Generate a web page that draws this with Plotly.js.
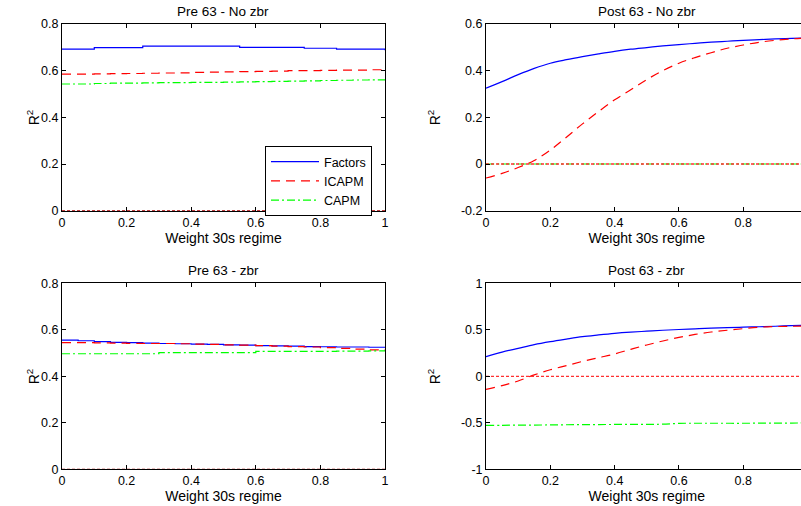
<!DOCTYPE html>
<html>
<head>
<meta charset="utf-8">
<script src="https://cdn.plot.ly/plotly-3.0.1.min.js"></script>
<style>
html, body { margin: 0; padding: 0; overflow: hidden; background: #fff; }
#chart { width: 810px; height: 506px; }
</style>
</head>
<body>
<div id="chart"></div>
<script>
// ---- data ----
const weight = [0, 0.05, 0.1, 0.15, 0.2, 0.25, 0.3, 0.35, 0.4, 0.45, 0.5, 0.55, 0.6, 0.65, 0.7, 0.75, 0.8, 0.85, 0.9, 0.95, 1];
const zeroX = [0, 1];
const zeroY = [0, 0];

const seriesNames = ['Factors', 'ICAPM', 'CAPM'];
const panelTitles = ['Pre 63 - No zbr', 'Post 63 - No zbr', 'Pre 63 - zbr', 'Post 63 - zbr'];
const xTitle = 'Weight 30s regime';
const yTitle = 'R<sup>2</sup>';

// Pre 63 - No zbr
const pre63NoZbrFactors = [0.692, 0.692, 0.699, 0.699, 0.699, 0.705, 0.705, 0.705, 0.705, 0.705, 0.705, 0.700, 0.700, 0.700, 0.700, 0.696, 0.696, 0.692, 0.692, 0.692, 0.687];
const pre63NoZbrICAPM   = [0.585, 0.585, 0.586, 0.587, 0.588, 0.589, 0.590, 0.591, 0.593, 0.594, 0.595, 0.596, 0.597, 0.598, 0.600, 0.600, 0.601, 0.602, 0.602, 0.604, 0.605];
const pre63NoZbrCAPM    = [0.543, 0.543, 0.545, 0.547, 0.547, 0.548, 0.549, 0.549, 0.550, 0.550, 0.551, 0.552, 0.553, 0.554, 0.555, 0.556, 0.558, 0.559, 0.560, 0.561, 0.562];

// Post 63 - No zbr
const post63NoZbrFactors = [0.325, 0.353, 0.383, 0.410, 0.432, 0.447, 0.460, 0.472, 0.483, 0.492, 0.499, 0.506, 0.512, 0.517, 0.522, 0.526, 0.530, 0.533, 0.536, 0.538, 0.540];
const post63NoZbrICAPM   = [-0.060, -0.040, -0.015, 0.015, 0.060, 0.115, 0.172, 0.225, 0.275, 0.318, 0.362, 0.400, 0.432, 0.456, 0.477, 0.496, 0.510, 0.522, 0.530, 0.536, 0.540];
const post63NoZbrCAPM    = [0, 0, 0, 0, 0, 0, 0, 0, 0, 0, 0, 0, 0, 0, 0, 0, 0, 0, 0, 0, 0];

// Pre 63 - zbr
const pre63ZbrFactors = [0.556, 0.553, 0.549, 0.546, 0.545, 0.543, 0.541, 0.540, 0.538, 0.537, 0.535, 0.534, 0.532, 0.531, 0.530, 0.528, 0.527, 0.526, 0.526, 0.525, 0.525];
const pre63ZbrICAPM   = [0.545, 0.545, 0.544, 0.543, 0.542, 0.541, 0.541, 0.540, 0.538, 0.537, 0.535, 0.534, 0.532, 0.530, 0.528, 0.526, 0.523, 0.520, 0.517, 0.514, 0.510];
const pre63ZbrCAPM    = [0.497, 0.497, 0.497, 0.497, 0.497, 0.497, 0.502, 0.502, 0.502, 0.502, 0.502, 0.502, 0.507, 0.507, 0.507, 0.507, 0.507, 0.508, 0.508, 0.509, 0.510];

// Post 63 - zbr
const post63ZbrFactors = [0.211, 0.260, 0.300, 0.340, 0.372, 0.400, 0.426, 0.445, 0.462, 0.475, 0.485, 0.495, 0.503, 0.510, 0.517, 0.523, 0.528, 0.533, 0.538, 0.545, 0.550];
const post63ZbrICAPM   = [-0.140, -0.100, -0.050, 0.015, 0.070, 0.115, 0.160, 0.200, 0.240, 0.290, 0.337, 0.380, 0.418, 0.450, 0.476, 0.495, 0.512, 0.528, 0.535, 0.538, 0.540];
const post63ZbrCAPM    = [-0.527, -0.527, -0.525, -0.524, -0.523, -0.521, -0.520, -0.519, -0.518, -0.517, -0.516, -0.515, -0.506, -0.505, -0.505, -0.505, -0.505, -0.504, -0.504, -0.503, -0.500];

// tick labels
const xTickVals = [0, 0.2, 0.4, 0.6, 0.8, 1];
const xTickText = ['0', '0.2', '0.4', '0.6', '0.8', '1'];
const yTickValsA = [0, 0.2, 0.4, 0.6, 0.8];
const yTickTextA = ['0', '0.2', '0.4', '0.6', '0.8'];
const yTickValsB = [-0.2, 0, 0.2, 0.4, 0.6];
const yTickTextB = ['-0.2', '0', '0.2', '0.4', '0.6'];
const yTickValsD = [-1, -0.5, 0, 0.5, 1];
const yTickTextD = ['-1', '-0.5', '0', '0.5', '1'];

// ---- build ----
const W = 810, H = 506;
const FONT = 'Liberation Sans, Arial, sans-serif';
const colors = ['#0000ff', '#ff0000', '#00ff00'];
const dashes = ['solid', '9px,6px', '8px,3px,2px,3px'];

const panels = [
  {ax: '', data: [pre63NoZbrFactors, pre63NoZbrICAPM, pre63NoZbrCAPM], shape: 'hv'},
  {ax: '2', data: [post63NoZbrFactors, post63NoZbrICAPM, post63NoZbrCAPM], shape: 'spline'},
  {ax: '3', data: [pre63ZbrFactors, pre63ZbrICAPM, pre63ZbrCAPM], shape: 'hv'},
  {ax: '4', data: [post63ZbrFactors, post63ZbrICAPM, post63ZbrCAPM], shape: 'spline'}
];

const traces = [];
panels.forEach((p, pi) => {
  p.data.forEach((ys, si) => {
    traces.push({
      x: weight, y: ys, type: 'scatter', mode: 'lines',
      name: seriesNames[si],
      showlegend: pi === 0,
      xaxis: 'x' + p.ax, yaxis: 'y' + p.ax,
      line: {color: colors[si], width: 1.2, dash: dashes[si], shape: p.shape},
      hoverinfo: 'skip'
    });
  });
  traces.push({
    x: zeroX, y: zeroY, type: 'scatter', mode: 'lines', showlegend: false,
    xaxis: 'x' + p.ax, yaxis: 'y' + p.ax,
    line: {color: pi % 2 === 0 ? '#aa0000' : '#ff3030', width: 1.3, dash: '3px,2px'},
    hoverinfo: 'skip'
  });
});

const xL = [62 / W, 385 / W];
const xR = [486 / W, 807.6 / W];
const yT = [(H - 210.7) / H, (H - 24) / H];
const yB = [(H - 469.3) / H, (H - 283.3) / H];

function xAxis(domain, anchor) {
  return {
    domain: domain, anchor: anchor, range: [0, 1],
    tickvals: xTickVals, ticktext: xTickText,
    ticks: 'inside', ticklen: 4, tickcolor: '#000', tickwidth: 1,
    showline: true, linecolor: '#000', linewidth: 1, mirror: 'ticks',
    showgrid: false, zeroline: false,
    tickfont: {family: FONT, size: 12.5, color: '#000'},
    title: {text: xTitle, font: {family: FONT, size: 14, color: '#000'}, standoff: 1},
    fixedrange: true
  };
}
function yAxis(domain, anchor, range, vals, text) {
  return {
    domain: domain, anchor: anchor, range: range,
    tickvals: vals, ticktext: text,
    ticks: 'inside', ticklen: 4, tickcolor: '#000', tickwidth: 1,
    showline: true, linecolor: '#000', linewidth: 1, mirror: 'ticks',
    showgrid: false, zeroline: false,
    tickfont: {family: FONT, size: 12.5, color: '#000'},
    fixedrange: true
  };
}

const centers = [
  {x: (xL[0] + xL[1]) / 2, y: yT, lx: 33 / W},
  {x: (xR[0] + xR[1]) / 2, y: yT, lx: 434 / W},
  {x: (xL[0] + xL[1]) / 2, y: yB, lx: 33 / W},
  {x: (xR[0] + xR[1]) / 2, y: yB, lx: 434 / W}
];
const annotations = [];
centers.forEach((c, i) => {
  annotations.push({
    x: c.x, y: c.y[1], xref: 'paper', yref: 'paper', xanchor: 'center', yanchor: 'bottom',
    yshift: 3, text: panelTitles[i], showarrow: false,
    font: {family: FONT, size: 13.5, color: '#000'}
  });
  annotations.push({
    x: c.lx, y: (c.y[0] + c.y[1]) / 2, xref: 'paper', yref: 'paper',
    xanchor: 'center', yanchor: 'middle', textangle: -90,
    text: yTitle, showarrow: false,
    font: {family: FONT, size: 14, color: '#000'}
  });
});

const layout = {
  width: W, height: H,
  margin: {l: 0, r: 0, t: 0, b: 0},
  paper_bgcolor: '#fff', plot_bgcolor: '#fff',
  showlegend: true,
  legend: {
    x: 265 / W, y: (H - 146) / H, xanchor: 'left', yanchor: 'top',
    bgcolor: '#fff', bordercolor: '#000', borderwidth: 1,
    font: {family: FONT, size: 12.5, color: '#000'},
    itemwidth: 48, tracegroupgap: 0
  },
  xaxis: xAxis(xL, 'y'),
  yaxis: yAxis(yT, 'x', [0, 0.8], yTickValsA, yTickTextA),
  xaxis2: xAxis(xR, 'y2'),
  yaxis2: yAxis(yT, 'x2', [-0.2, 0.6], yTickValsB, yTickTextB),
  xaxis3: xAxis(xL, 'y3'),
  yaxis3: yAxis(yB, 'x3', [0, 0.8], yTickValsA, yTickTextA),
  xaxis4: xAxis(xR, 'y4'),
  yaxis4: yAxis(yB, 'x4', [-1, 1], yTickValsD, yTickTextD),
  annotations: annotations
};

Plotly.newPlot('chart', traces, layout, {displayModeBar: false, staticPlot: true});
</script>
</body>
</html>
